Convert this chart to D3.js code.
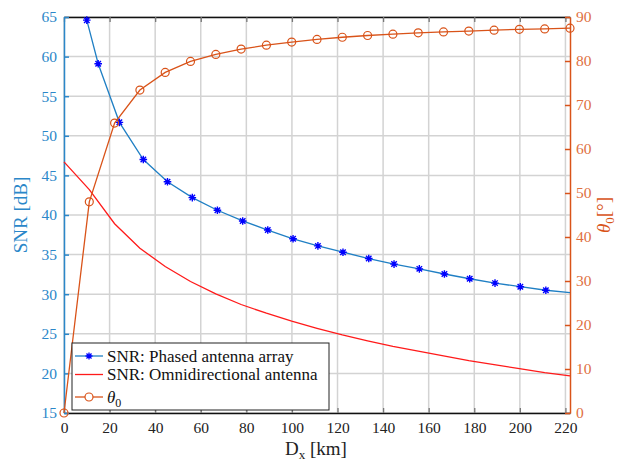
<!DOCTYPE html>
<html>
<head>
<meta charset="utf-8">
<script src="https://cdn.jsdelivr.net/npm/d3@7"></script>
<style>
  body { margin: 0; background: #fff; }
</style>
</head>
<body>
<svg id="chart" width="626" height="462"></svg>
<script>

/////////////////////////////////
// DATA
//////////////////////////////////

// theta and omni curve share the same Dx samples
var sampleDx = [0, 11.1, 22.2, 33.3, 44.4, 55.5, 66.6, 77.7, 88.8, 99.9, 111, 122.1, 133.2, 144.3, 155.4, 166.5, 177.6, 188.7, 199.8, 210.9, 222];
var thetaDeg = [0, 48.0, 65.9, 73.4, 77.4, 79.9, 81.5, 82.7, 83.6, 84.3, 84.9, 85.4, 85.8, 86.1, 86.4, 86.6, 86.8, 87.0, 87.2, 87.3, 87.45];
var omniSnr = [46.7, 43.2, 38.9, 35.8, 33.5, 31.6, 30.05, 28.7, 27.6, 26.6, 25.7, 24.85, 24.1, 23.4, 22.8, 22.2, 21.6, 21.1, 20.6, 20.1, 19.7];

// phased array markers (last point is the line end, no marker)
var phasedDx = [10.0, 15.0, 24.3, 34.8, 45.4, 56.3, 67.3, 78.4, 89.4, 100.5, 111.4, 122.4, 133.7, 144.8, 155.9, 166.9, 178.0, 189.1, 200.2, 211.4, 222];
var phasedSnr = [64.6, 59.1, 51.7, 47.0, 44.2, 42.2, 40.6, 39.25, 38.1, 37.0, 36.1, 35.3, 34.5, 33.8, 33.2, 32.55, 31.95, 31.4, 30.95, 30.5, 30.2];

var xTicks = [0, 20, 40, 60, 80, 100, 120, 140, 160, 180, 200, 220];
var snrTicks = [15, 20, 25, 30, 35, 40, 45, 50, 55, 60, 65];
var thetaTicks = [0, 10, 20, 30, 40, 50, 60, 70, 80, 90];

var legendLabels = ["SNR: Phased antenna array", "SNR: Omnidirectional antenna", "theta"];


/////////////////////////////////
// STATIC VARIABLES
//////////////////////////////////

var plot = {left: 64, right: 570, top: 17, bottom: 413};
var serif = "'Liberation Serif', 'Times New Roman', 'DejaVu Serif', serif";

var blueAxis = "#2b87c9";
var orange = "#d95319";
var phasedLine = "#1f7fc4";
var gridColor = "#d3d3d3";

var svg = d3.select("#chart");

var x = d3.scaleLinear().domain([0, 222]).range([plot.left, plot.right]);
var ySnr = d3.scaleLinear().domain([15, 65]).range([plot.bottom, plot.top]);
var yTheta = d3.scaleLinear().domain([0, 90]).range([plot.bottom, plot.top]);


/////////////////////////////////
// GRID
//////////////////////////////////

var grid = svg.append("g").attr("class", "grid");

grid.selectAll(".vgrid")
  .data(xTicks)
  .enter()
  .append("line")
    .attr("x1", function(d) { return x(d); })
    .attr("x2", function(d) { return x(d); })
    .attr("y1", plot.top)
    .attr("y2", plot.bottom)
    .attr("stroke", gridColor)
    .attr("stroke-width", 1.5);

grid.selectAll(".hgrid")
  .data(snrTicks)
  .enter()
  .append("line")
    .attr("x1", plot.left)
    .attr("x2", plot.right)
    .attr("y1", function(d) { return ySnr(d); })
    .attr("y2", function(d) { return ySnr(d); })
    .attr("stroke", gridColor)
    .attr("stroke-width", 1.5);


/////////////////////////////////
// AXES
//////////////////////////////////

var bottomAxis = svg.append("g")
  .attr("transform", "translate(0," + plot.bottom + ")")
  .call(d3.axisBottom(x).tickValues(xTicks).tickSizeInner(-5).tickSizeOuter(0).tickPadding(9));

var topAxis = svg.append("g")
  .attr("transform", "translate(0," + plot.top + ")")
  .call(d3.axisTop(x).tickValues(xTicks).tickSizeInner(-5).tickSizeOuter(0).tickFormat(""));

[bottomAxis, topAxis].forEach(function(ax) {
  ax.select(".domain").attr("stroke", "#111").attr("stroke-width", 1.3);
  ax.selectAll(".tick line").attr("stroke", "#777").attr("stroke-width", 1.3);
  ax.selectAll(".tick text").attr("fill", "#222");
});

var leftAxis = svg.append("g")
  .attr("transform", "translate(" + plot.left + ",0)")
  .call(d3.axisLeft(ySnr).tickValues(snrTicks).tickSizeInner(-5).tickSizeOuter(0).tickPadding(7));

leftAxis.select(".domain").attr("stroke", blueAxis).attr("stroke-width", 1.5);
leftAxis.selectAll(".tick line").attr("stroke", blueAxis).attr("stroke-width", 1.5);
leftAxis.selectAll(".tick text").attr("fill", blueAxis);

var rightAxis = svg.append("g")
  .attr("transform", "translate(" + plot.right + ",0)")
  .call(d3.axisRight(yTheta).tickValues(thetaTicks).tickSizeInner(-5).tickSizeOuter(0).tickPadding(6));

rightAxis.select(".domain").attr("stroke", orange).attr("stroke-width", 1.5);
rightAxis.selectAll(".tick line").attr("stroke", orange).attr("stroke-width", 1.5);
rightAxis.selectAll(".tick text").attr("fill", "#e0703f");

svg.selectAll(".tick text").style("font-size", "15.5px");


/////////////////////////////////
// AXIS LABELS
//////////////////////////////////

var xLabel = svg.append("text")
  .attr("x", 316)
  .attr("y", 455)
  .attr("text-anchor", "middle")
  .attr("fill", "#222")
  .style("font-size", "19px");
xLabel.append("tspan").text("D");
xLabel.append("tspan").attr("dy", 4).style("font-size", "13px").text("x");
xLabel.append("tspan").attr("dy", -4).text(" [km]");

svg.append("text")
  .attr("transform", "translate(27,215) rotate(-90)")
  .attr("text-anchor", "middle")
  .attr("fill", blueAxis)
  .style("font-size", "19px")
  .text("SNR [dB]");

var thLabel = svg.append("text")
  .attr("transform", "translate(610,215) rotate(-90)")
  .attr("text-anchor", "middle")
  .attr("fill", orange)
  .style("font-size", "19px");
thLabel.append("tspan").style("font-style", "italic").text("θ");
thLabel.append("tspan").attr("dy", 4).style("font-size", "13px").text("0");
thLabel.append("tspan").attr("dy", -4).text("[°]");


/////////////////////////////////
// LINES + MARKERS
//////////////////////////////////

var omniData = sampleDx.map(function(d, i) { return {dx: d, v: omniSnr[i]}; });
var thetaData = sampleDx.map(function(d, i) { return {dx: d, v: thetaDeg[i]}; });
var phasedData = phasedDx.map(function(d, i) { return {dx: d, v: phasedSnr[i]}; });

var snrLine = d3.line()
  .x(function(d) { return x(d.dx); })
  .y(function(d) { return ySnr(d.v); });

var thetaLine = d3.line()
  .x(function(d) { return x(d.dx); })
  .y(function(d) { return yTheta(d.v); });

svg.append("path")
  .datum(omniData)
  .attr("d", snrLine)
  .attr("fill", "none")
  .attr("stroke", "#ff1a1a")
  .attr("stroke-width", 1.3);

svg.append("path")
  .datum(phasedData)
  .attr("d", snrLine)
  .attr("fill", "none")
  .attr("stroke", phasedLine)
  .attr("stroke-width", 1.3);

// asterisk marker path
function asterisk(r) {
  var k = r * 0.72;
  return "M0," + (-r) + "V" + r +
    "M" + (-r) + ",0H" + r +
    "M" + (-k) + "," + (-k) + "L" + k + "," + k +
    "M" + (-k) + "," + k + "L" + k + "," + (-k);
}

svg.selectAll(".phasedMark")
  .data(phasedData.slice(0, phasedData.length - 1))
  .enter()
  .append("path")
    .attr("class", "phasedMark")
    .attr("transform", function(d) { return "translate(" + x(d.dx) + "," + ySnr(d.v) + ")"; })
    .attr("d", asterisk(3.8))
    .attr("stroke", "#0000ff")
    .attr("stroke-width", 1.4)
    .attr("fill", "none");

svg.append("path")
  .datum(thetaData)
  .attr("d", thetaLine)
  .attr("fill", "none")
  .attr("stroke", orange)
  .attr("stroke-width", 1.3);

svg.selectAll(".thetaMark")
  .data(thetaData)
  .enter()
  .append("circle")
    .attr("class", "thetaMark")
    .attr("cx", function(d) { return x(d.dx); })
    .attr("cy", function(d) { return yTheta(d.v); })
    .attr("r", 4)
    .attr("fill", "none")
    .attr("stroke", orange)
    .attr("stroke-width", 1.2);


/////////////////////////////////
// LEGEND
//////////////////////////////////

var legend = svg.append("g").attr("transform", "translate(72,343)");

legend.append("rect")
  .attr("width", 257)
  .attr("height", 67)
  .attr("fill", "#fff")
  .attr("stroke", "#222")
  .attr("stroke-width", 1);

var rowY = [13, 31.5, 54];
var legendColors = [phasedLine, "#ff1a1a", orange];

legendLabels.forEach(function(label, i) {
  legend.append("line")
    .attr("x1", 3)
    .attr("x2", 31)
    .attr("y1", rowY[i])
    .attr("y2", rowY[i])
    .attr("stroke", legendColors[i])
    .attr("stroke-width", 1.3);

  if (i == 0) {
    legend.append("path")
      .attr("transform", "translate(17," + rowY[i] + ")")
      .attr("d", asterisk(3.5))
      .attr("stroke", "#0000ff")
      .attr("stroke-width", 1.3)
      .attr("fill", "none");
  }
  if (i == 2) {
    legend.append("circle")
      .attr("cx", 17)
      .attr("cy", rowY[i])
      .attr("r", 4)
      .attr("fill", "#fff")
      .attr("stroke", orange)
      .attr("stroke-width", 1.2);
  }

  var t = legend.append("text")
    .attr("x", 35)
    .attr("y", rowY[i] + 5.5)
    .attr("fill", "#111")
    .style("font-size", "17px");

  if (label == "theta") {
    t.append("tspan").style("font-style", "italic").text("θ");
    t.append("tspan").attr("dy", 4).style("font-size", "12px").text("0");
  } else {
    t.text(label);
  }
});

// every text in serif, set inline so the axis defaults don't win
svg.selectAll("text").style("font-family", serif);

</script>
</body>
</html>
